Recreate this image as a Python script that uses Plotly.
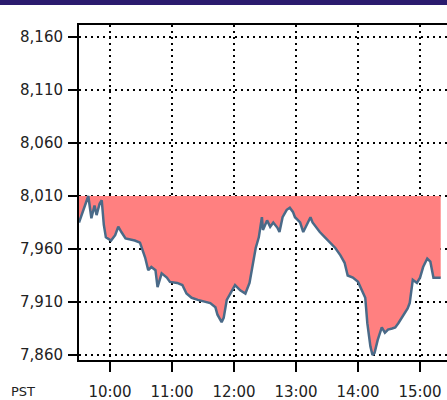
import plotly.graph_objects as go

DAY = "2024-01-02 "
times = ["09:30", "09:35", "09:39", "09:42", "09:45", "09:47", "09:50", "09:52", "09:54", "09:56",
         "10:01", "10:05", "10:08", "10:11", "10:15", "10:24", "10:29", "10:34", "10:37", "10:40",
         "10:44", "10:46", "10:50", "10:55", "10:58", "11:05", "11:10", "11:14", "11:19", "11:25",
         "11:32", "11:37", "11:42", "11:44", "11:48", "11:50", "11:53", "11:58", "12:01", "12:06",
         "12:11", "12:15", "12:18", "12:21", "12:24", "12:27", "12:28", "12:32", "12:35", "12:38",
         "12:42", "12:44", "12:47", "12:51", "12:54", "12:57", "12:59", "13:04", "13:07", "13:11",
         "13:14", "13:16", "13:20", "13:23", "13:28", "13:33", "13:38", "13:43", "13:47", "13:50",
         "13:55", "14:00", "14:04", "14:07", "14:09", "14:12", "14:14", "14:16", "14:19", "14:23",
         "14:26", "14:29", "14:33", "14:36", "14:39", "14:43", "14:46", "14:48", "14:50", "14:53",
         "14:57", "15:00", "15:03", "15:07", "15:10", "15:13", "15:17", "15:20"]
values = [7985, 7998, 8010, 7989, 8001, 7992, 8003, 8006, 7983, 7971,
          7968, 7973, 7981, 7976, 7970, 7968, 7966, 7952, 7940, 7943,
          7940, 7924, 7937, 7933, 7929, 7928, 7926, 7918, 7914, 7912,
          7910, 7909, 7905, 7898, 7891, 7895, 7912, 7921, 7926, 7921,
          7918, 7928, 7943, 7961, 7971, 7990, 7978, 7987, 7981, 7985,
          7980, 7976, 7990, 7997, 7999, 7995, 7990, 7985, 7976, 7985,
          7990, 7985, 7980, 7976, 7971, 7966, 7961, 7954, 7947, 7935,
          7933, 7929, 7921, 7914, 7890, 7868, 7860, 7862, 7874, 7886,
          7881, 7884, 7885, 7886, 7890, 7896, 7901, 7904, 7909, 7931,
          7928, 7933, 7943, 7951, 7948, 7933, 7933, 7933]
prev_close = 8010
y_ticks = [7860, 7910, 7960, 8010, 8060, 8110, 8160]
y_tick_labels = ["7,860", "7,910", "7,960", "8,010", "8,060", "8,110", "8,160"]
x_ticks = ["10:00", "11:00", "12:00", "13:00", "14:00", "15:00"]
tz_label = "PST"

x = [DAY + t for t in times]

fig = go.Figure()
fig.add_trace(go.Scatter(x=[x[0], x[-1]], y=[prev_close, prev_close], mode="lines",
                         line=dict(width=0, color="#ff8080"), hoverinfo="skip", showlegend=False))
fig.add_trace(go.Scatter(x=x, y=values, mode="lines", fill="tonexty", fillcolor="#ff8080",
                         line=dict(color="#4a6a88", width=2.5), showlegend=False))

fig.update_layout(
    width=447, height=400,
    margin=dict(l=79, r=0, t=25, b=40),
    paper_bgcolor="white", plot_bgcolor="white",
    showlegend=False,
    shapes=[dict(type="rect", xref="paper", yref="paper", x0=-0.22, x1=1.0,
                 y0=1 + 20 / 335, y1=1 + 26 / 335, fillcolor="#2b1b6e", line=dict(width=0),
                 layer="above")],
    annotations=[dict(text=tz_label, xref="paper", yref="paper", x=-0.152, y=-0.093,
                      xanchor="center", yanchor="middle", showarrow=False,
                      font=dict(family="DejaVu Sans", size=13, color="#222"))],
)
fig.update_xaxes(
    type="date", range=[DAY + "09:30", DAY + "15:26:06"], automargin=False,
    tickvals=[DAY + t for t in x_ticks], ticktext=x_ticks,
    showgrid=True, gridcolor="black", gridwidth=1.5, griddash="2px,4px",
    showline=True, linecolor="black", linewidth=2, mirror=True,
    ticks="outside", ticklen=10, tickwidth=2, tickcolor="black",
    ticklabelstandoff=7,
    tickfont=dict(family="DejaVu Sans", size=15, color="#222"),
    zeroline=False,
)
fig.update_yaxes(
    range=[7855.3, 8171.3], tickvals=y_ticks, ticktext=y_tick_labels, automargin=False,
    showgrid=True, gridcolor="black", gridwidth=1.5, griddash="2px,4px",
    showline=True, linecolor="black", linewidth=2,
    ticks="outside", ticklen=9, tickwidth=2, tickcolor="black",
    ticklabelstandoff=2,
    tickfont=dict(family="DejaVu Sans", size=15, color="#222"),
    zeroline=False,
)
fig.write_html("out.html", config={"displayModeBar": False},
               post_script="document.body.style.margin='0';document.body.style.overflow='hidden';")
